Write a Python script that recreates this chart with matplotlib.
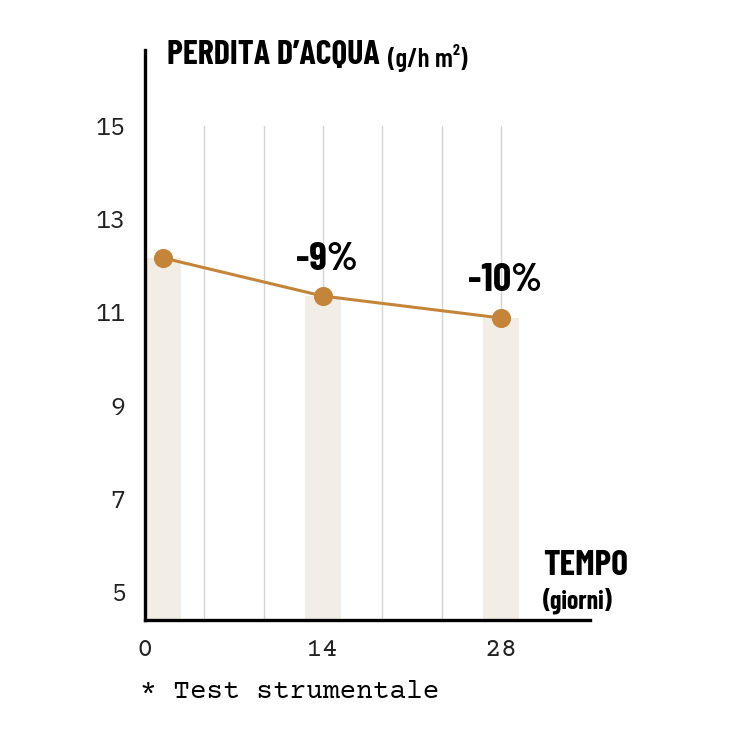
import matplotlib.pyplot as plt
from matplotlib import font_manager

# data
days = [0, 14, 28]
plot_x = [1.4, 14, 28]          # where the marks sit along the time axis
loss = [12.17, 11.35, 10.88]    # g/h m2
changes = ['', '-9%', '-10%']
y_ticks = [5, 7, 9, 11, 13, 15]
grid_x = [14 / 3 * k for k in range(1, 7)]

gold = '#c4853a'
bar_col = '#f2ede5'
grid_col = '#d4d4d4'

faces = font_manager.fontManager.ttflist
names = {f.name for f in faces}

def pick(*cands, bold=False):
    for c in cands:
        if bold:
            if any(f.name == c and f.weight >= 700 for f in faces):
                return c
        elif c in names:
            return c
    return 'DejaVu Sans'

cond = pick('Oswald', 'Barlow Condensed', 'Asap Condensed', 'Encode Sans Condensed', bold=True)
mono = pick('Courier Prime', 'Nimbus Mono PS', 'Courier New', 'Liberation Mono')
sans = pick('IBM Plex Sans', 'Open Sans')

fig = plt.figure(figsize=(7.3, 7.3), dpi=100)
ax = fig.add_axes([145/730, 1-620/730, (590-145)/730, (620-50)/730])

ymin, ymax = 4.4, 16.63
ax.set_xlim(0, 35)
ax.set_ylim(ymin, ymax)

for gx in grid_x:
    ax.plot([gx, gx], [ymin, 15], color=grid_col, lw=1, zorder=1)

ax.bar(plot_x, [v - ymin for v in loss], bottom=ymin, width=2.9,
       color=bar_col, zorder=2)
ax.plot(plot_x, loss, color=gold, lw=2.2, zorder=3)
ax.scatter(plot_x, loss, s=190, color=gold, zorder=4, linewidths=0)

for x, v, t in zip(plot_x, loss, changes):
    if t:
        ax.text(x + 0.3, v + 0.42, t, ha='center', va='bottom',
                fontsize=29, fontweight='bold', family=cond)

for s in ['top', 'right']:
    ax.spines[s].set_visible(False)
ax.spines['left'].set_linewidth(2.4)
ax.spines['bottom'].set_linewidth(2.4)

ax.set_yticks(y_ticks)
ax.set_yticklabels([str(t) for t in y_ticks], fontsize=18, family=sans, color='#222222')
ax.set_xticks(days)
ax.set_xticklabels([str(d) for d in days], fontsize=20, family=mono, color='#222222')
ax.tick_params(axis='y', length=0, pad=14)
ax.tick_params(axis='x', length=0, pad=13)

fig.text(167/730, 1-55/730, "PERDITA D\u2019ACQUA", fontsize=24.5, fontweight='bold',
         family=cond, va='center', ha='left')
fig.text(388/730, 1-58/730, "(g/h m\u00b2)", fontsize=19.5, fontweight='semibold',
         family=cond, va='center', ha='left')
fig.text(543/730, 1-566/730, "TEMPO", fontsize=25.5, fontweight='bold',
         family=cond, va='center', ha='left')
fig.text(543/730, 1-601/730, "(giorni)", fontsize=18.5, fontweight='bold',
         family=cond, va='center', ha='left')
fig.text(140/730, 1-691/730, "* Test strumentale", fontsize=20, family=mono,
         va='center', ha='left')

fig.savefig('out.png', dpi=100, facecolor='white')
